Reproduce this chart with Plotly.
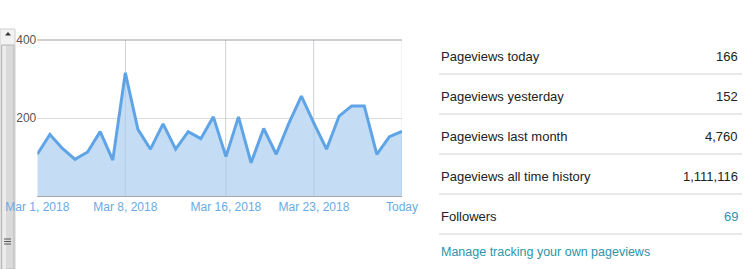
import plotly.graph_objects as go
import pandas as pd

# ---- data ----
dates = pd.date_range("2018-03-01", "2018-03-30", freq="D")
pageviews = [107, 158, 122, 94, 113, 165, 92, 316, 171, 120,
             185, 120, 165, 147, 203, 101, 203, 85, 173, 107,
             186, 256, 186, 120, 205, 231, 231, 107, 152, 166]
tick_dates = ["2018-03-01", "2018-03-08", "2018-03-16", "2018-03-23", "2018-03-30"]
tick_text = ["Mar 1, 2018", "Mar 8, 2018", "Mar 16, 2018", "Mar 23, 2018", "Today"]
y_ticks = [200, 400]

stat_labels = ["Pageviews today", "Pageviews yesterday", "Pageviews last month",
               "Pageviews all time history", "Followers"]
stat_values = ["166", "152", "4,760", "1,111,116", "69"]
link_text = "Manage tracking your own pageviews"

W, H = 754, 269
def px(x):
    return x / W
def py(y):
    return 1 - y / H

FONT = "Liberation Sans, Arial, sans-serif"
TEAL = "#2b95a8"

fig = go.Figure()
fig.add_trace(go.Scatter(
    x=dates, y=pageviews, mode="lines",
    line=dict(color="#5ea4e6", width=3),
    fill="tozeroy", fillcolor="#c4dcf4",
    hoverinfo="skip", showlegend=False,
))

fig.update_layout(
    template="none",
    width=W, height=H,
    margin=dict(l=0, r=0, t=0, b=0, pad=0, autoexpand=False),
    paper_bgcolor="white", plot_bgcolor="white",
    font=dict(family=FONT, size=12, color="#222"),
    xaxis=dict(
        domain=[px(37.3), px(402)],
        range=["2018-03-01", "2018-03-30"],
        tickvals=tick_dates, ticktext=tick_text,
        tickfont=dict(color="#6aaae6", size=12, family=FONT),
        showgrid=True, gridcolor="#e3e3e3", gridwidth=1,
        showline=True, linecolor="#a8a8a8", linewidth=1,
        ticks="", zeroline=False, fixedrange=True, automargin=False,
    ),
    yaxis=dict(
        domain=[py(196), py(40)],
        range=[0, 400],
        tickvals=y_ticks, ticktext=[str(v) for v in y_ticks],
        tickfont=dict(color="#555", size=12, family=FONT),
        showgrid=True, gridcolor="#dddddd", gridwidth=1,
        showline=False, ticks="", zeroline=False, fixedrange=True, automargin=False,
    ),
)

shapes = []
# top border line at 400
shapes.append(dict(type="line", xref="paper", yref="paper",
                   x0=px(37.3), x1=px(402), y0=py(40), y1=py(40),
                   line=dict(color="#a0a0a0", width=1)))

# vertical gridlines visible through the area fill
for d in tick_dates[1:]:
    shapes.append(dict(type="line", xref="x", yref="y", x0=d, x1=d, y0=0, y1=400,
                       layer="above", line=dict(color="rgba(120,140,170,0.18)", width=1)))

# right-side table separators
for y in [74, 114, 154, 194, 234]:
    shapes.append(dict(type="line", xref="paper", yref="paper",
                       x0=px(439), x1=px(742), y0=py(y), y1=py(y),
                       line=dict(color="#e2e2e2", width=1.5)))

# scrollbar on the left (below text so labels overlap it)
sb = []
sb.append(dict(type="rect", x0=px(0), x1=px(15), y0=py(269), y1=py(29),
               fillcolor="#f2f2f2", line=dict(color="#cfcfcf", width=1)))
sb.append(dict(type="rect", x0=px(1.5), x1=px(14), y0=py(269), y1=py(45),
               fillcolor="#dadada", line=dict(color="#b8b8b8", width=1)))
sb.append(dict(type="rect", x0=px(2.5), x1=px(6), y0=py(269), y1=py(46),
               fillcolor="#ececec", line=dict(width=0)))
sb.append(dict(type="path",
               path=f"M {px(5)} {py(35.5)} L {px(11)} {py(35.5)} L {px(8)} {py(32)} Z",
               fillcolor="#333", line=dict(width=0)))
for y in [239, 241.5, 244]:
    sb.append(dict(type="line", x0=px(4), x1=px(11), y0=py(y), y1=py(y),
                   line=dict(color="#555", width=1)))
for s in sb:
    s.update(xref="paper", yref="paper", layer="below")
    shapes.append(s)

annotations = []
row_y = [56, 96, 136, 176, 216]
for i, (lab, val) in enumerate(zip(stat_labels, stat_values)):
    annotations.append(dict(text=lab, xref="paper", yref="paper",
                            x=px(439), y=py(row_y[i]), xanchor="left", yanchor="middle",
                            showarrow=False, font=dict(size=13, color="#222", family=FONT)))
    annotations.append(dict(text=val, xref="paper", yref="paper",
                            x=px(740), y=py(row_y[i]), xanchor="right", yanchor="middle",
                            showarrow=False,
                            font=dict(size=13, color=TEAL if lab == "Followers" else "#222",
                                      family=FONT)))
annotations.append(dict(text=link_text, xref="paper", yref="paper",
                        x=px(439), y=py(252), xanchor="left", yanchor="middle",
                        showarrow=False, font=dict(size=12.5, color=TEAL, family=FONT)))

fig.update_layout(shapes=shapes, annotations=annotations)

fig.write_html("out.html", config={"displayModeBar": False})
